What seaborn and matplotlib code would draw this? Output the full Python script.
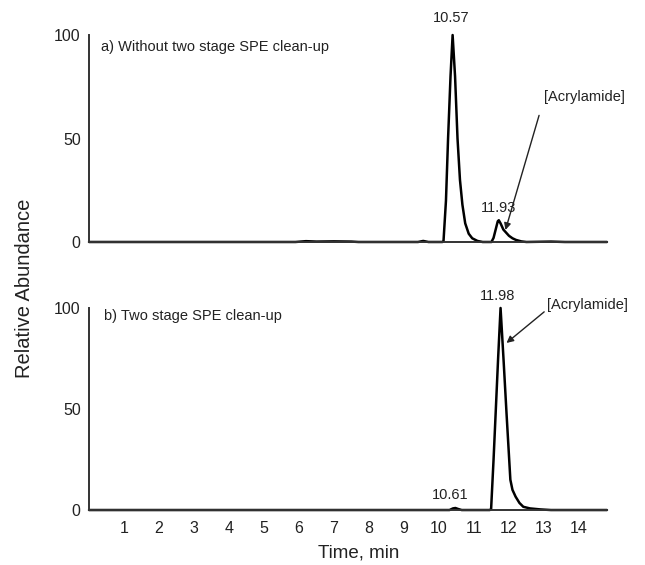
import matplotlib
matplotlib.use("Agg")
import matplotlib.pyplot as plt
import seaborn as sns
import pandas as pd

# chromatogram a) without two stage SPE clean-up (time in min, relative abundance)
time_a = [0.0, 5.9, 6.2, 6.5, 7.0, 7.5, 7.7, 9.4, 9.55, 9.7,
          10.10, 10.13, 10.20, 10.26, 10.33, 10.39, 10.46, 10.53, 10.60, 10.67,
          10.75, 10.85, 10.95, 11.10, 11.25, 11.50, 11.56, 11.62, 11.68, 11.71,
          11.76, 11.84, 11.92, 12.00, 12.10, 12.20, 12.35, 12.50, 13.20, 13.60, 14.8]
abund_a = [0.0, 0.0, 0.4, 0.2, 0.3, 0.2, 0.0, 0.0, 0.5, 0.0,
           0.0, 0.5, 20, 50, 80, 100, 80, 50, 30, 18,
           9, 4, 1.8, 0.5, 0.0, 0.0, 2, 6, 10, 10.5,
           9, 6, 4.5, 3, 1.8, 1.0, 0.3, 0.0, 0.2, 0.0, 0.0]

# chromatogram b) two stage SPE clean-up
time_b = [0.0, 10.30, 10.40, 10.47, 10.55, 10.65, 11.45, 11.49, 11.56, 11.62,
          11.69, 11.76, 11.85, 11.93, 12.00, 12.04, 12.10, 12.19, 12.30, 12.41,
          12.60, 12.90, 13.20, 14.8]
abund_b = [0.0, 0.0, 0.8, 1.0, 0.5, 0.0, 0.0, 0.5, 25, 48,
           75, 100, 73, 48, 27, 15, 10, 6.6, 3.5, 1.6,
           0.8, 0.3, 0.0, 0.0]

df_a = pd.DataFrame({"time": time_a, "abund": abund_a})
df_b = pd.DataFrame({"time": time_b, "abund": abund_b})

x_ticks = list(range(1, 15))
y_ticks = [0, 50, 100]

sns.set_style("white")
plt.rcParams["font.family"] = ["Liberation Sans", "DejaVu Sans"]

fig = plt.figure(figsize=(6.45, 5.65), dpi=100)
ax1 = fig.add_axes([0.138, 0.5717, 0.803, 0.3663])
ax2 = fig.add_axes([0.138, 0.0973, 0.803, 0.3576])

for ax, df in [(ax1, df_a), (ax2, df_b)]:
    sns.lineplot(data=df, x="time", y="abund", ax=ax, color="black",
                 linewidth=1.8, estimator=None, sort=False)
    ax.set_xlim(0, 14.8)
    ax.set_ylim(0, 100)
    for ln in ax.lines:
        ln.set_clip_on(False)
    for s in ["top", "right"]:
        ax.spines[s].set_visible(False)
    for s in ["left", "bottom"]:
        ax.spines[s].set_color("#333333")
        ax.spines[s].set_linewidth(1.4)
    ax.set_yticks(y_ticks)
    ax.tick_params(length=0, labelsize=11.5, colors="#222222", pad=6)
    ax.set_xlabel("")
    ax.set_ylabel("")

ax1.set_xticks([])
ax2.set_xticks(x_ticks)
ax2.tick_params(axis="x", pad=8)

txt = dict(fontsize=10.5, color="#222222")
ax1.text(0.33, 94, "a) Without two stage SPE clean-up", ha="left", va="center", **txt)
ax2.text(0.44, 96, "b) Two stage SPE clean-up", ha="left", va="center", **txt)

ax1.text(10.36, 108, "10.57", ha="center", va="center", **txt)
ax1.text(11.70, 16.5, "11.93", ha="center", va="center", **txt)
ax1.annotate("[Acrylamide]", xy=(11.9, 5.8), xytext=(12.99, 70),
             ha="left", va="center", annotation_clip=False, **txt,
             arrowprops=dict(arrowstyle="-|>", color="#222222", lw=1.0,
                             shrinkA=6, shrinkB=0, mutation_scale=10,
                             relpos=(0.0, 0.3)))

ax2.text(11.67, 106, "11.98", ha="center", va="center", **txt)
ax2.text(10.33, 7.4, "10.61", ha="center", va="center", **txt)
ax2.annotate("[Acrylamide]", xy=(11.93, 82.7), xytext=(13.1, 101.5),
             ha="left", va="center", annotation_clip=False, **txt,
             arrowprops=dict(arrowstyle="-|>", color="#222222", lw=1.0,
                             shrinkA=0, shrinkB=0, mutation_scale=10,
                             relpos=(0.0, 0.2)))

fig.text(25 / 645, 1 - 288 / 565, "Relative Abundance", rotation=90,
         ha="center", va="center", fontsize=14.5, color="#222222")
fig.text(359 / 645, 1 - 553 / 565, "Time, min", ha="center", va="center",
         fontsize=13.5, color="#222222")

fig.savefig("out.png", dpi=100)
